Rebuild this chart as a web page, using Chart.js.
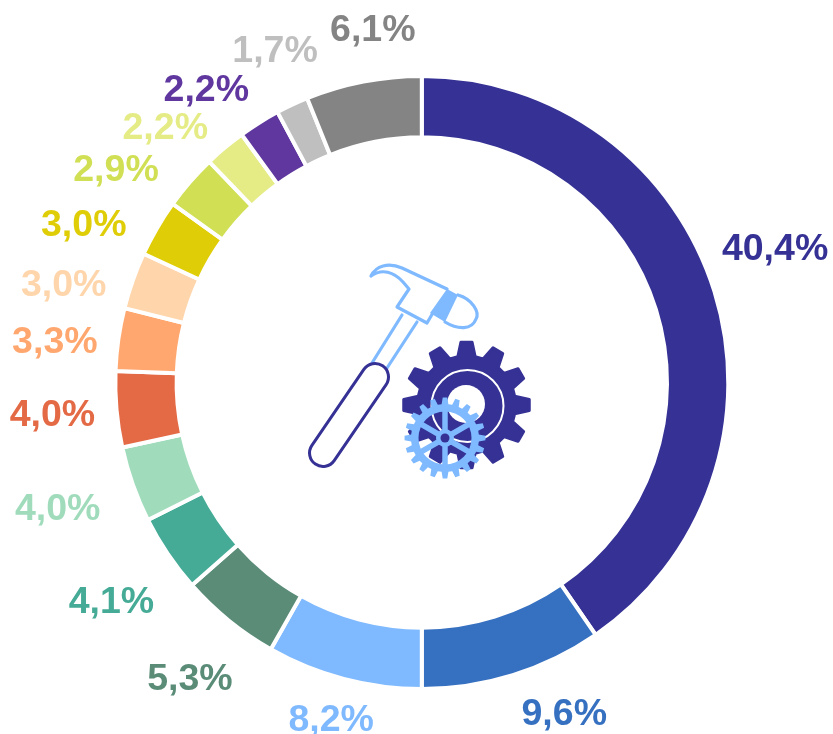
<!DOCTYPE html>
<html>
<head>
<meta charset="utf-8">
<style>
  html, body { margin: 0; padding: 0; background: #fff; }
  canvas { display: block; }
</style>
<script src="https://cdn.jsdelivr.net/npm/chart.js@4"></script>
</head>
<body>
<canvas id="donut" width="833" height="734"></canvas>
<script>
const shares = [40.4, 9.6, 8.2, 5.3, 4.1, 4.0, 4.0, 3.3, 3.0, 3.0, 2.9, 2.2, 2.2, 1.7, 6.1];
const shareLabels = ['40,4%', '9,6%', '8,2%', '5,3%', '4,1%', '4,0%', '4,0%', '3,3%', '3,0%', '3,0%', '2,9%', '2,2%', '2,2%', '1,7%', '6,1%'];
const colors = ['#353195', '#3670C0', '#7FB9FF', '#5A8C78', '#45AB97', '#A0DCBC', '#E46A46', '#FFA76E',
    '#FFD5AB', '#DFCD07', '#D0DF53', '#E5EC85', '#5F379F', '#BFBFBF', '#848484'];

// nudges from the outer edge of each slice to the centre of its label
const labelNudge = [[62.5, -42], [52, 41.5], [-13, 43.5], [-40, 61], [-58, 49.5], [-77, 26], [-66, 6], [-65.5, 3],
    [-71, 4], [-75, -3], [-75.5, -13], [-61, -20], [-54, -34], [-18, -55], [9, -53]];

const NAVY = '#353195';
const SKY = '#7FB9FF';

function gearPath(ctx, cx, cy, teeth, outer, root, phase, tip, base) {
    const step = Math.PI * 2 / teeth;
    ctx.beginPath();
    for (let i = 0; i < teeth; i++) {
        const a = phase + i * step;
        [[a - step * base, root], [a - step * tip, outer], [a + step * tip, outer], [a + step * base, root]]
            .forEach(([t, r]) => ctx.lineTo(cx + r * Math.cos(t), cy + r * Math.sin(t)));
    }
    ctx.closePath();
}

function drawHammer(ctx) {
    ctx.save();
    ctx.lineJoin = 'round';
    ctx.lineCap = 'round';
    ctx.strokeStyle = SKY;
    ctx.lineWidth = 3.2;
    // head and claw
    ctx.beginPath();
    ctx.moveTo(371, 276);
    ctx.bezierCurveTo(376, 266, 388, 262, 402, 268);
    ctx.lineTo(447, 289);
    ctx.moveTo(371, 276);
    ctx.bezierCurveTo(382, 268, 394, 272, 403, 282);
    ctx.lineTo(409, 289);
    ctx.lineTo(397, 307);
    ctx.lineTo(427, 323);
    ctx.lineTo(434, 311);
    ctx.stroke();
    // cap
    ctx.beginPath();
    ctx.moveTo(458, 295);
    ctx.bezierCurveTo(472, 299, 480, 312, 476, 319);
    ctx.bezierCurveTo(472, 330, 458, 330, 445, 322);
    ctx.stroke();
    // band
    ctx.fillStyle = SKY;
    ctx.beginPath();
    ctx.moveTo(447, 289);
    ctx.lineTo(458, 295);
    ctx.lineTo(445, 322);
    ctx.lineTo(430, 313);
    ctx.closePath();
    ctx.fill();
    // shaft
    ctx.beginPath();
    ctx.moveTo(402, 315);
    ctx.lineTo(372, 363);
    ctx.moveTo(417, 322);
    ctx.lineTo(387, 368);
    ctx.stroke();
    // grip
    ctx.strokeStyle = NAVY;
    ctx.lineWidth = 3;
    ctx.translate(375, 377);
    ctx.rotate(Math.atan2(76, -52));
    ctx.beginPath();
    ctx.roundRect(-13.5, -13.5, 92 + 27, 27, 13.5);
    ctx.fillStyle = '#fff';
    ctx.fill();
    ctx.stroke();
    ctx.restore();
}

function drawGears(ctx) {
    ctx.save();
    ctx.lineJoin = 'round';
    // big gear
    ctx.fillStyle = NAVY;
    ctx.strokeStyle = NAVY;
    ctx.lineWidth = 3;
    gearPath(ctx, 466.5, 405, 12, 63, 49, -Math.PI / 2, 0.17, 0.34);
    ctx.fill();
    ctx.stroke();
    ctx.strokeStyle = '#fff';
    ctx.lineWidth = 2;
    ctx.beginPath();
    ctx.arc(467.5, 406, 36, 0, Math.PI * 2);
    ctx.stroke();
    ctx.fillStyle = '#fff';
    ctx.beginPath();
    ctx.arc(466, 404, 19, 0, Math.PI * 2);
    ctx.fill();
    // small gear, a ring so the big one shows through
    ctx.fillStyle = SKY;
    ctx.strokeStyle = SKY;
    ctx.lineWidth = 1;
    gearPath(ctx, 445, 438, 20, 40.5, 34, -Math.PI / 2, 0.18, 0.32);
    ctx.moveTo(445 + 26.5, 438);
    ctx.arc(445, 438, 26.5, 0, Math.PI * 2);
    ctx.fill('evenodd');
    ctx.lineWidth = 5.5;
    for (let i = 0; i < 3; i++) {
        const a = Math.PI / 2 + i * Math.PI / 3;
        ctx.beginPath();
        ctx.moveTo(445 - 29 * Math.cos(a), 438 - 29 * Math.sin(a));
        ctx.lineTo(445 + 29 * Math.cos(a), 438 + 29 * Math.sin(a));
        ctx.stroke();
    }
    ctx.beginPath();
    ctx.arc(445, 438, 9, 0, Math.PI * 2);
    ctx.fill();
    ctx.fillStyle = NAVY;
    ctx.beginPath();
    ctx.arc(445, 438, 4.5, 0, Math.PI * 2);
    ctx.fill();
    ctx.restore();
}

const labelsAndIcon = {
    id: 'labelsAndIcon',
    afterDatasetsDraw(chart) {
        const ctx = chart.ctx;
        const arcs = chart.getDatasetMeta(0).data;
        ctx.save();
        ctx.font = 'bold 37.5px "Liberation Sans", Arial, sans-serif';
        ctx.textAlign = 'center';
        ctx.textBaseline = 'middle';
        arcs.forEach((arc, i) => {
            const p = arc.getProps(['x', 'y', 'startAngle', 'endAngle', 'outerRadius']);
            const mid = (p.startAngle + p.endAngle) / 2;
            const x = p.x + (p.outerRadius - 2) * Math.cos(mid) + labelNudge[i][0];
            const y = p.y + (p.outerRadius - 2) * Math.sin(mid) + labelNudge[i][1];
            ctx.fillStyle = colors[i];
            ctx.fillText(shareLabels[i], x, y);
        });
        ctx.restore();
        // the icon in the reference is a soft raster
        ctx.save();
        ctx.filter = 'blur(0.6px)';
        drawHammer(ctx);
        drawGears(ctx);
        ctx.restore();
    }
};

new Chart('donut', {
    type: 'doughnut',
    data: {
        labels: shareLabels,
        datasets: [{
            data: shares,
            backgroundColor: colors,
            borderColor: '#fff',
            borderWidth: 4
        }]
    },
    options: {
        responsive: false,
        animation: false,
        cutout: '80%',
        layout: { padding: { left: 113.3, right: 102.7, top: 74, bottom: 43 } },
        plugins: { legend: { display: false }, tooltip: { enabled: false } }
    },
    plugins: [labelsAndIcon]
});
</script>
</body>
</html>
